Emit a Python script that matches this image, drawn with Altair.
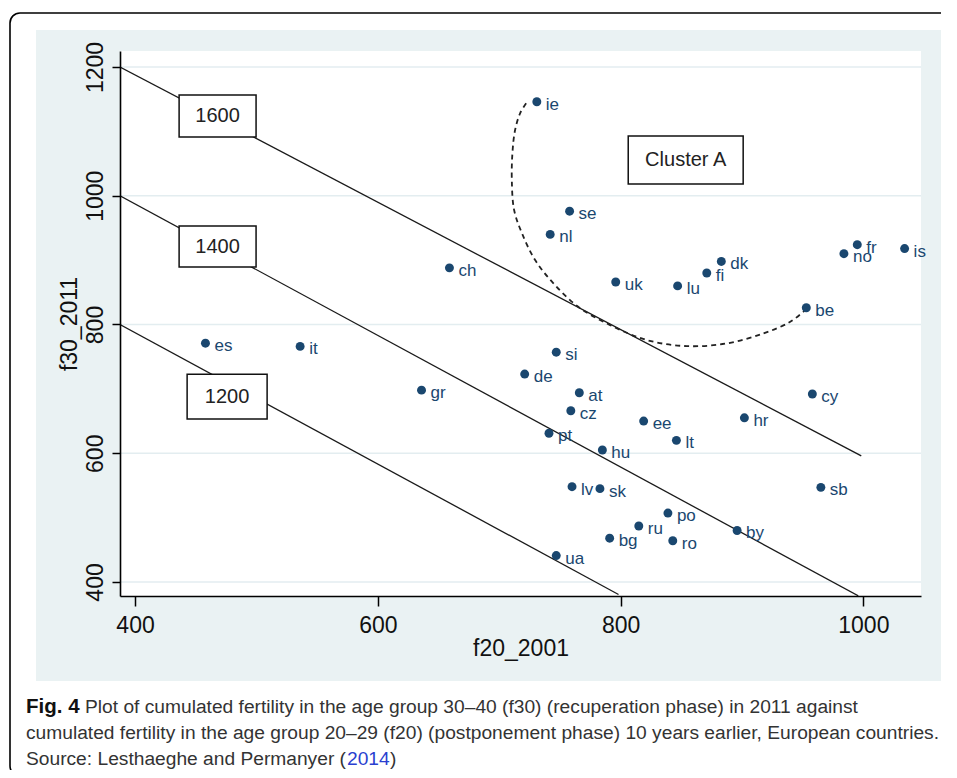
import altair as alt
import pandas as pd

# ---------------- data ----------------
countries = ["ie", "se", "nl", "ch", "uk", "lu", "fi", "dk", "fr", "no", "is", "be",
             "es", "it", "gr", "si", "de", "at", "cz", "pt", "hu", "ee", "lt", "hr",
             "cy", "sb", "lv", "sk", "po", "ru", "bg", "ro", "by", "ua"]
f20_2001 = [731, 758, 742, 659, 796, 847, 871, 883, 995, 984, 1034, 953,
            458, 536, 636, 747, 721, 766, 759, 741, 785, 819, 846, 902,
            958, 965, 760, 783, 839, 815, 791, 843, 896, 747]
f30_2011 = [1146, 976, 940, 888, 866, 860, 880, 898, 924, 910, 918, 826,
            771, 766, 698, 757, 723, 694, 666, 631, 605, 650, 620, 655,
            692, 547, 548, 545, 507, 487, 468, 464, 480, 441]

# iso-lines (f20 + f30 = total), end points as drawn
iso_totals = ["1600", "1400", "1200"]
iso_x_start = [387.6, 387.6, 387.6]
iso_y_start = [1200, 1000, 800]
iso_x_end = [998.3, 995.8, 798.3]
iso_y_end = [596, 378.5, 380.6]

# label boxes on the iso-lines and the cluster label
box_text = ["1600", "1400", "1200", "Cluster A"]
box_x1 = [436.3, 436.3, 442.9, 806.3]
box_x2 = [499.7, 499.7, 508.8, 901.0]
box_y1 = [1091.2, 889.2, 653.0, 1018.2]
box_y2 = [1156.5, 952.9, 722.9, 1092.8]

# dashed curve around cluster A
curve_x = [722.2, 717.3, 713.1, 710.9, 710.4, 712.3, 718.7, 729.6, 744.5, 765.1,
           791.4, 821.7, 854.6, 887.6, 917.8, 939.8, 952.1]
curve_y = [1143.6, 1128.5, 1102.1, 1066.4, 1024.4, 977.8, 942.0, 900.1, 864.3, 827.5,
           799.1, 775.8, 766.4, 770.6, 786.2, 804.2, 822.4]

x_ticks = [400, 600, 800, 1000]
y_ticks = [400, 600, 800, 1000, 1200]

caption_1b = "Fig. 4"
caption_1 = "Plot of cumulated fertility in the age group 30–40 (f30) (recuperation phase) in 2011 against"
caption_2 = "cumulated fertility in the age group 20–29 (f20) (postponement phase) 10 years earlier, European countries."
caption_3a = "Source: Lesthaeghe and Permanyer ("
caption_3b = "2014"
caption_3c = ")"

# ---------------- tables ----------------
pts = pd.DataFrame({"country": countries, "f20_2001": f20_2001, "f30_2011": f30_2011})
iso = pd.DataFrame({"total": iso_totals, "x": iso_x_start, "y": iso_y_start,
                    "x2": iso_x_end, "y2": iso_y_end})
boxes = pd.DataFrame({"label": box_text, "x1": box_x1, "x2": box_x2, "y1": box_y1, "y2": box_y2})
boxes["xc"] = (boxes["x1"] + boxes["x2"]) / 2
boxes["yc"] = (boxes["y1"] + boxes["y2"]) / 2
curve = pd.DataFrame({"i": range(len(curve_x)), "x": curve_x, "y": curve_y})
grid = pd.DataFrame({"g": y_ticks})
one = pd.DataFrame({"k": [0]})

W, H = 801, 545
NAVY = "#1a476f"
BG = "#eaf2f3"
SANS = "Liberation Sans, Arial, sans-serif"

xs = alt.Scale(domain=[387.6, 1047.5], nice=False, zero=False)
ys = alt.Scale(domain=[378.2, 1224.9], nice=False, zero=False)

axis_common = dict(zindex=1, grid=False, domainColor="black", domainWidth=1.6,
                   tickColor="black", tickWidth=1.5, labelFont=SANS, labelFontSize=23,
                   labelColor="#111111", titleFont=SANS, titleFontSize=23,
                   titleFontWeight="normal", titleColor="#111111")
XAXIS = alt.Axis(values=x_ticks, format="d", tickSize=10, labelPadding=26,
                 labelBaseline="alphabetic", labelAlign="center",
                 title="f20_2001", titleX=W / 2, titleY=59,
                 titleBaseline="alphabetic", titleAlign="center", **axis_common)
YAXIS = alt.Axis(values=y_ticks, format="d", tickSize=8, labelPadding=10,
                 labelAngle=270, labelAlign="center", labelBaseline="alphabetic",
                 title="f30_2011", titleX=-44, titleY=H / 2, titleAngle=270,
                 titleBaseline="alphabetic", titleAlign="center", **axis_common)

# ---------------- decoration ----------------
border = alt.Chart(one).mark_rect(fill="white", stroke="black", strokeWidth=1.6,
                                  cornerRadius=10, clip=False).encode(
    x=alt.value(-110), x2=alt.value(900), y=alt.value(-38), y2=alt.value(725))
panel = alt.Chart(one).mark_rect(fill=BG, clip=False).encode(
    x=alt.value(-84), x2=alt.value(823), y=alt.value(-21), y2=alt.value(630))
plotbg = alt.Chart(one).mark_rect(fill="white", clip=False).encode(
    x=alt.value(0), x2=alt.value(W), y=alt.value(0), y2=alt.value(H))

gridlines = alt.Chart(grid).mark_rule(color="#e3edf0", strokeWidth=1.6).encode(
    y=alt.Y("g:Q", scale=ys, axis=YAXIS))

# ---------------- iso-lines, curve, boxes ----------------
isolines = alt.Chart(iso).mark_rule(color="#1a1a1a", strokeWidth=1.3, clip=True).encode(
    x=alt.X("x:Q", scale=xs, axis=XAXIS), y=alt.Y("y:Q", scale=ys, axis=YAXIS),
    x2="x2:Q", y2="y2:Q")

dash = alt.Chart(curve).mark_line(color="#222222", strokeWidth=1.8, strokeDash=[5, 4],
                                  interpolate="catmull-rom").encode(
    x=alt.X("x:Q", scale=xs, axis=XAXIS), y=alt.Y("y:Q", scale=ys, axis=YAXIS),
    order="i:Q")

boxrect = alt.Chart(boxes).mark_rect(fill="white", stroke="#111111", strokeWidth=1.5).encode(
    x=alt.X("x1:Q", scale=xs, axis=XAXIS), x2="x2:Q",
    y=alt.Y("y1:Q", scale=ys, axis=YAXIS), y2="y2:Q")
boxlabel = alt.Chart(boxes).mark_text(font=SANS, fontSize=20, color="#222222",
                                      baseline="middle", align="center").encode(
    x=alt.X("xc:Q", scale=xs, axis=XAXIS), y=alt.Y("yc:Q", scale=ys, axis=YAXIS),
    text="label:N")

# ---------------- points ----------------
points = alt.Chart(pts).mark_circle(size=80, color=NAVY, opacity=1).encode(
    x=alt.X("f20_2001:Q", scale=xs, axis=XAXIS),
    y=alt.Y("f30_2011:Q", scale=ys, axis=YAXIS))

labels = alt.Chart(pts).mark_text(font=SANS, fontSize=17, color=NAVY, align="left",
                                  baseline="alphabetic", dx=9, dy=8).encode(
    x=alt.X("f20_2001:Q", scale=xs, axis=XAXIS),
    y=alt.Y("f30_2011:Q", scale=ys, axis=YAXIS), text="country:N")

# ---------------- caption ----------------
CAP = 19.2


def cap(txt, x, y, weight="normal", color="#333333", size=CAP):
    return alt.Chart(one).mark_text(text=txt, font=SANS, fontSize=size, fontWeight=weight,
                                    color=color, align="left", baseline="alphabetic",
                                    clip=False).encode(x=alt.value(x), y=alt.value(y))


captions = [
    cap(caption_1b, -94, 662, weight="bold", color="#111111", size=20.5),
    cap(caption_1, -35, 662),
    cap(caption_2, -94, 688),
    cap(caption_3a, -94, 714),
    cap(caption_3b, 227, 714, color="#2a3fd0"),
    cap(caption_3c, 270, 714),
]

chart = alt.layer(border, panel, plotbg, gridlines, isolines, dash, boxrect, boxlabel,
                  points, labels, *captions).properties(
    width=W, height=H,
    padding={"left": 112, "top": 43, "right": 20, "bottom": 174},
    autosize=alt.AutoSizeParams(type="none"),
    background="white",
).configure_view(stroke=None, fill=None)

chart.save("out.html", embed_options={"renderer": "svg", "actions": False})
